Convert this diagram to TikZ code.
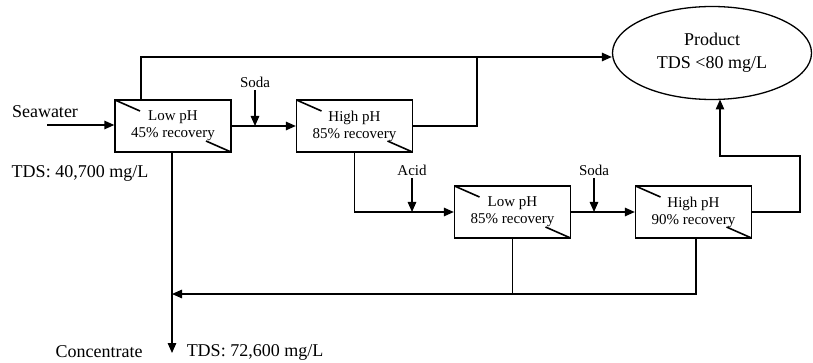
\documentclass[tikz,border=0pt]{standalone}
\usepackage{fontspec}
\setmainfont{Liberation Serif}
\usetikzlibrary{arrows.meta,shapes.geometric}
\begin{document}
\begin{tikzpicture}[x=1pt,y=-1pt,line width=1.3pt,
  arr/.style={-{Triangle[length=10pt,width=8.5pt]}},
  unit/.style={draw,rectangle,minimum width=116pt,minimum height=52pt,inner sep=0pt,
    align=center,font=\fontsize{15}{17}\selectfont,
    path picture={\draw[line width=1.6pt] (path picture bounding box.north west) -- ++(25pt,-11pt);
      \draw[line width=1.6pt] (path picture bounding box.south east) -- ++(-25pt,11pt);}},
  lbl/.style={font=\fontsize{18}{20}\selectfont,inner sep=0pt},
  chem/.style={font=\fontsize{15}{17}\selectfont,inner sep=0pt}]
\useasboundingbox (0,0) rectangle (813,363);
\node[unit] (b1) at (173,126) {Low pH\\45\% recovery};
\node[unit] (b2) at (354.5,126) {High pH\\85\% recovery};
\node[unit] (b3) at (512.5,212) {Low pH\\85\% recovery};
\node[unit] (b4) at (693.5,212) {High pH\\90\% recovery};
\node[draw,ellipse,minimum width=199pt,minimum height=93pt,inner sep=0pt,align=center,
  font=\fontsize{18}{23}\selectfont] (prod) at (712,53) {Product\\TDS <80 mg/L};
\node[lbl] (sea) at (45,112) {Seawater};
\node[lbl] (tds1) at (80,173) {TDS: 40,700 mg/L};
\node[lbl] (conc) at (99,352) {Concentrate};
\node[lbl] (tds2) at (255,352) {TDS: 72,600 mg/L};
\node[chem] (soda1) at (255,82) {Soda};
\node[chem] (acid) at (412,170) {Acid};
\node[chem] (soda2) at (594,170) {Soda};
\coordinate (swin) at (47,125);
\coordinate (topl) at (141,57);
\coordinate (j1) at (477,57);
\coordinate (r1) at (800,156);
\coordinate (pin) at (720,99.5);
\coordinate (rec) at (172,294);
\coordinate (cout) at (172,353);
% connectors
\draw[arr] (swin) -- (swin -| b1.west);
\draw[arr] (b1.north -| topl) -- (topl) -- ([yshift=-4pt]prod.west);
\draw (b2.east) -| (j1);
\draw[arr] (b1.east) -- (b2.west);
\draw[arr] (soda1.south) ++(0,2) -- (soda1 |- b1.east);
\draw[arr] (b2.south) |- (b3.west);
\draw[arr] (acid.south) ++(0,2) -- (acid |- b3.west);
\draw[arr] (b3.east) -- (b4.west);
\draw[arr] (soda2.south) ++(0,2) -- (soda2 |- b3.west);
\draw[arr] (b4.east) -| (r1) -| (pin);
\draw[arr] ([xshift=2.5pt]b4.south) |- (rec);
\draw (b3.south) -- (b3.south |- rec);
\draw[arr] (b1.south -| rec) -- (cout);
\end{tikzpicture}
\end{document}
